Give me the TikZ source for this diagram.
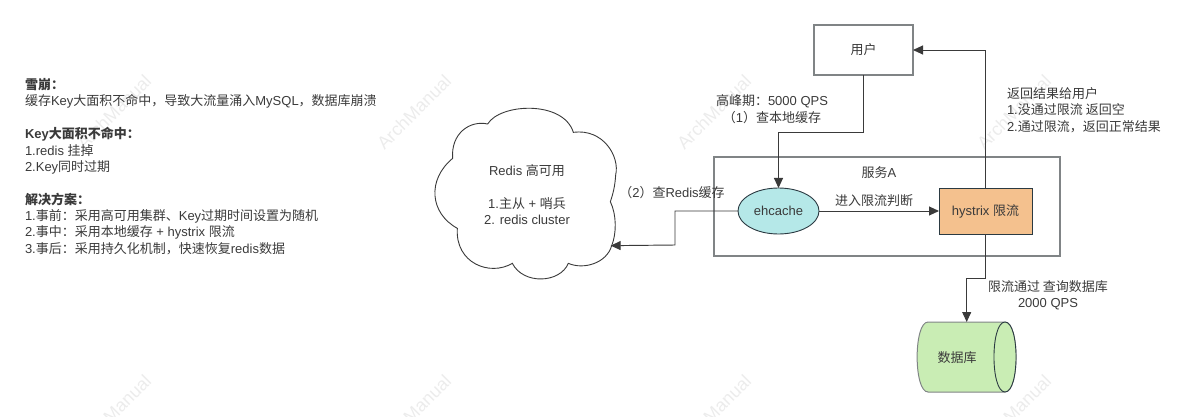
\documentclass[tikz,border=0pt]{standalone}
\usepackage{fontspec}
\setmainfont{Liberation Sans}
\newfontfamily\cjk{Noto Sans CJK SC}
\newcommand{\zh}[1]{{\cjk #1}}
\usetikzlibrary{arrows.meta,shapes.geometric}
\definecolor{ink}{HTML}{3A3A3A}
\definecolor{edgegray}{HTML}{808486}
\definecolor{nodeedge}{HTML}{2B3A42}
\definecolor{wm}{HTML}{ECECEC}
\definecolor{teal}{HTML}{B5E8E8}
\definecolor{peach}{HTML}{F4C18E}
\definecolor{leaf}{HTML}{C9EDB4}
\tikzset{
  lbl/.style={font=\fontsize{13}{16.35}\selectfont,text=ink,inner sep=0pt,outer sep=0pt,align=center},
  lblleft/.style={lbl,align=left},
  graybox/.style={draw=edgegray,line width=1.3pt,inner sep=0pt,outer sep=0pt},
  solidnode/.style={draw=nodeedge,line width=0.9pt,inner sep=0pt,outer sep=0pt},
  conn/.style={draw=ink,line width=0.95pt,-{Triangle[length=10pt,width=9pt]}},
  wmark/.style={font=\fontsize{18}{18}\selectfont,text=wm,rotate=45,inner sep=0pt}
}
\begin{document}
\begin{tikzpicture}[x=1pt,y=-1pt]
\useasboundingbox (0,0) rectangle (1200,417);
\begin{scope}
\clip (0,0) rectangle (1200,417);
\node[wmark] (w1) at (114,112) {ArchManual};
\node[wmark] (w2) at (414,112) {ArchManual};
\node[wmark] (w3) at (714,112) {ArchManual};
\node[wmark] (w4) at (1014,112) {ArchManual};
\node[wmark] (w5) at (114,412) {ArchManual};
\node[wmark] (w6) at (414,412) {ArchManual};
\node[wmark] (w7) at (714,412) {ArchManual};
\node[wmark] (w8) at (1014,412) {ArchManual};
\end{scope}
% service box
\node[graybox,minimum width=346pt,minimum height=99pt] (svc) at (887,206.5) {};
\node[lbl] (svclabel) at (879,173) {\zh{服务}A};
% user
\node[graybox,lbl,draw=edgegray,line width=1.3pt,minimum width=99pt,minimum height=50pt] (user) at (863.5,50) {\zh{用户}};
% ehcache
\node[ellipse,solidnode,fill=teal,minimum width=81pt,minimum height=46pt,lbl,draw=nodeedge,line width=0.9pt] (eh) at (778.5,211) {ehcache};
% hystrix
\node[solidnode,fill=peach,lbl,draw=nodeedge,line width=0.9pt,minimum width=93pt,minimum height=46pt] (hy) at (985.5,211) {hystrix \zh{限流}};
% database
\draw[draw=edgegray,line width=1pt,fill=leaf]
  (1005,322) -- (928,322) .. controls (913.5,322) and (913.5,392) .. (928,392) -- (1005,392)
  .. controls (1019.7,392) and (1019.7,322) .. (1005,322) -- cycle;
\draw[draw=nodeedge,line width=0.9pt,fill=leaf]
  (1005,322) .. controls (990.3,322) and (990.3,392) .. (1005,392)
  .. controls (1019.7,392) and (1019.7,322) .. (1005,322) -- cycle;
\node[lbl] (db) at (957,358) {\zh{数据库}};
\coordinate (dbtop) at (966.7,322);
% cloud
\begin{scope}[shift={(420,100)},x=0.33333pt,y=-0.33333pt]
\draw[draw=ink,line width=0.9pt,fill=white]
  (98,175) .. controls (92,100) and (150,60) .. (203,72)
  .. controls (240,10) and (430,0) .. (460,97)
  .. controls (550,85) and (600,170) .. (587,225)
  .. controls (585,260) and (578,285) .. (571,305)
  .. controls (590,345) and (590,400) .. (575,437)
  .. controls (560,490) and (490,510) .. (445,490)
  .. controls (420,550) and (310,555) .. (277,490)
  .. controls (210,530) and (105,490) .. (112,385)
  .. controls (30,340) and (20,240) .. (98,175) -- cycle;
\coordinate (cloudport) at (572,437);
\end{scope}
\node[lbl] (redis) at (527,195) {Redis \zh{高可用}\\[0pt]\strut\\1.\zh{主从} + \zh{哨兵}\\2. redis cluster};
% connectors
\coordinate (c1a) at (863.5,132);
\coordinate (c1b) at (778.5,132);
\draw[conn] (user.south) -- (c1a) -- (c1b) -- (eh.north);
\draw[conn] (eh.east) -- (hy.west);
\coordinate (c2a) at (675,211);
\coordinate (c2b) at (675,245);
\draw[conn] (eh.west) -- (c2a) -- (c2b) -- (cloudport);
\coordinate (c3a) at (985.5,50);
\draw[conn] (hy.north) -- (c3a) -- (user.east);
\coordinate (c4a) at (985.5,278);
\coordinate (c4b) at (966.7,278);
\draw[conn] (hy.south) -- (c4a) -- (c4b) -- (dbtop);
% labels
\node[lbl] (l1) at (772,109) {\zh{高峰期：}5000 QPS\\\zh{（}1\zh{）查本地缓存}};
\node[lbl] (l2) at (672,192.5) {\zh{（}2\zh{）查}Redis\zh{缓存}};
\node[lbl] (l3) at (874,200.5) {\zh{进入限流判断}};
\node[lblleft,anchor=west] (l4) at (1007,110) {\zh{返回结果给用户}\\1.\zh{没通过限流 返回空}\\2.\zh{通过限流，返回正常结果}};
\node[lbl] (l5) at (1048,295) {\zh{限流通过 查询数据库}\\2000 QPS};
\node[lblleft,anchor=north west] (txt) at (25,78.5) {\textbf{\zh{雪崩：}}\\\zh{缓存}Key\zh{大面积不命中，导致大流量涌入}MySQL\zh{，数据库崩溃}\\\strut\\\textbf{Key\zh{大面积不命中：}}\\1.redis \zh{挂掉}\\2.Key\zh{同时过期}\\\strut\\\textbf{\zh{解决方案：}}\\1.\zh{事前：采用高可用集群、}Key\zh{过期时间设置为随机}\\2.\zh{事中：采用本地缓存} + hystrix \zh{限流}\\3.\zh{事后：采用持久化机制，快速恢复}redis\zh{数据}};
\end{tikzpicture}
\end{document}
